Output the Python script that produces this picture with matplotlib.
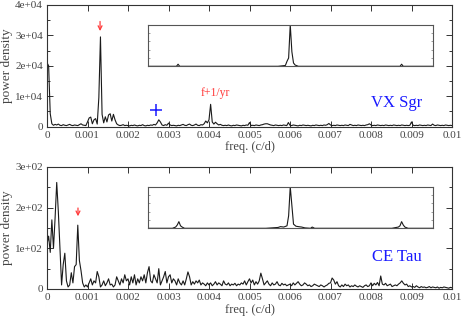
import numpy as np
import matplotlib
matplotlib.use("Agg")
import matplotlib.pyplot as plt

plt.rcParams['font.family'] = ['Liberation Serif', 'DejaVu Serif']

# ---------------- data ----------------
freq_step = 0.00004
freq = np.round(np.arange(0, 251) * freq_step, 6)  # 0 .. 0.01 c/d

vx_power = [
    # 0.000 - 0.00096
    21000, 20000, 4200, 900, 400, 700, 500, 800, 400, 300, 600, 400, 300,
    500, 700, 400, 300, 500, 400, 300, 600, 900, 500, 400, 300,
    # 0.001 - 0.00196
    1500, 2800, 3100, 900, 2200, 2600, 800, 9500, 29500, 4000, 1200, 3200, 1500,
    3800, 4200, 1800, 4000, 2200, 900, 500, 300, 400, 600, 300, 400,
    # 0.002 - 0.00296
    300, 200, 400, 300, 500, 300, 200, 400, 300, 600, 300, 200, 400,
    300, 500, 400, 700, 500, 1200, 2200, 1500, 500, 300, 600, 400,
    # 0.003 - 0.00396
    1100, 500, 300, 400, 300, 200, 400, 300, 500, 700, 400, 300, 600,
    800, 400, 300, 500, 800, 400, 300, 600, 500, 900, 1800, 1200,
    # 0.004 - 0.00496
    2200, 7300, 1500, 800, 1400, 900, 500, 700, 400, 300, 400, 300, 500,
    300, 200, 400, 300, 500, 400, 300, 200, 400, 300, 500, 400,
    # 0.005 - 0.00596
    1300, 300, 400, 300, 500, 400, 300, 500, 600, 800, 900, 900, 700,
    500, 400, 300, 500, 400, 300, 400, 300, 500, 400, 300, 1300,
    # 0.006 - 0.00696
    400, 300, 500, 400, 300, 200, 400, 300, 500, 400, 300, 400, 300,
    200, 400, 300, 500, 400, 300, 400, 300, 500, 400, 600, 1000,
    # 0.007 - 0.00796
    500, 300, 400, 300, 500, 400, 300, 400, 300, 500, 400, 300, 700,
    500, 300, 400, 300, 500, 400, 300, 400, 300, 500, 600, 900,
    # 0.008 - 0.00896
    500, 300, 400, 300, 500, 400, 300, 400, 300, 500, 400, 300, 400,
    300, 500, 400, 300, 400, 300, 500, 400, 300, 400, 300, 400,
    # 0.009 - 0.00996
    1500, 400, 300, 400, 300, 500, 400, 300, 400, 300, 500, 400, 300,
    800, 400, 300, 500, 400, 300, 400, 300, 500, 400, 300, 400,
    300,
]

ce_power = [
    # 0.000 - 0.00096
    110, 130, 90, 170, 100, 175, 262, 190, 100, 10, 60, 88, 20,
    5, 10, 40, 15, 55, 60, 157, 70, 45, 15, 5, 10,
    # 0.001 - 0.00196
    5, 15, 25, 10, 20, 15, 43, 30, 5, 10, 20, 8, 15,
    25, 10, 12, 5, 10, 30, 20, 10, 25, 15, 35, 20,
    # 0.002 - 0.00296
    25, 10, 30, 15, 35, 10, 25, 15, 30, 20, 35, 15, 40,
    55, 20, 15, 35, 25, 15, 50, 10, 20, 30, 43, 15,
    # 0.003 - 0.00396
    30, 35, 15, 25, 20, 10, 25, 15, 10, 20, 10, 25, 42,
    30, 10, 18, 12, 20, 15, 22, 10, 15, 12, 8, 15,
    # 0.004 - 0.00496
    10, 15, 8, 12, 18, 10, 15, 12, 8, 20, 12, 10, 15,
    8, 12, 10, 14, 8, 12, 10, 15, 12, 20, 10, 18,
    # 0.005 - 0.00596
    25, 15, 22, 10, 18, 12, 20, 39, 25, 10, 15, 20, 12,
    8, 15, 10, 12, 18, 10, 8, 14, 10, 12, 8, 10,
    # 0.006 - 0.00696
    12, 8, 15, 10, 14, 18, 12, 8, 10, 15, 12, 8, 10,
    6, 8, 12, 10, 8, 6, 10, 8, 5, 8, 10, 14,
    # 0.007 - 0.00796
    15, 27, 22, 12, 18, 8, 5, 10, 6, 12, 8, 10, 5,
    8, 6, 10, 7, 5, 8, 6, 4, 8, 10, 6, 8,
    # 0.008 - 0.00896
    15, 8, 14, 10, 16, 8, 32, 12, 10, 14, 8, 10, 12,
    6, 8, 10, 8, 12, 15, 20, 14, 10, 12, 6, 8,
    # 0.009 - 0.00996
    5, 6, 4, 8, 5, 3, 6, 4, 5, 3, 4, 6, 3,
    5, 4, 3, 5, 2, 4, 3, 5, 4, 3, 2, 4,
    3,
]

# spectral windows (insets), frequency offset in c/d, normalised power
vx_win_freq = [-0.0035, -0.0028, -0.00276, -0.00272, -0.0003, -0.00012, -0.00008,
               -0.00004, 0.0, 0.00004, 0.00008, 0.00012, 0.0002, 0.0027,
               0.00274, 0.00278, 0.0035]
vx_win_power = [0.0, 0.0, 0.05, 0.0, 0.0, 0.02, 0.12, 0.2, 1.0, 0.35, 0.08,
                0.03, 0.0, 0.0, 0.05, 0.0, 0.0]

ce_win_freq = [-0.0035, -0.0029, -0.00282, -0.00278, -0.00274, -0.0027, -0.00266,
               -0.0026, -0.0006, -0.0003, -0.00024, -0.00016, -0.00008, -0.00004,
               0.0, 0.00004, 0.00008, 0.00014, 0.0002, 0.00028, 0.00036, 0.0005,
               0.00054, 0.0006, 0.0025, 0.00266, 0.0027, 0.00274, 0.00278,
               0.00282, 0.0029, 0.0035]
ce_win_power = [0.0, 0.0, 0.03, 0.08, 0.16, 0.06, 0.03, 0.0, 0.0, 0.02, 0.04,
                0.03, 0.06, 0.3, 1.0, 0.55, 0.1, 0.05, 0.04, 0.03, 0.01, 0.0,
                0.03, 0.0, 0.0, 0.03, 0.06, 0.16, 0.08, 0.03, 0.0, 0.0]

x_ticks = [0, 0.001, 0.002, 0.003, 0.004, 0.005, 0.006, 0.007, 0.008, 0.009, 0.01]
x_ticklabels = ['0', '0.001', '0.002', '0.003', '0.004', '0.005', '0.006',
                '0.007', '0.008', '0.009', '0.01']
vx_yticks = [0, 10000, 20000, 30000, 40000]
vx_yticklabels = ['0', '1e+04', '2e+04', '3e+04', '4e+04']
ce_yticks = [0, 100, 200, 300]
ce_yticklabels = ['0', '1e+02', '2e+02', '3e+02']

# ---------------- figure ----------------
W, H = 463, 316
fig = plt.figure(figsize=(W / 100, H / 100), dpi=100)

frame_col = '#333333'
tick_col = '#444444'
line_col = '#1a1a1a'
red = '#ff3b3b'
blue = '#1a1aff'


def px_rect(x0, y0, x1, y1):
    return [x0 / W, 1 - y1 / H, (x1 - x0) / W, (y1 - y0) / H]


def style_main(ax, yticks, yticklabels, ymax, yminor):
    ax.set_xlim(0, 0.01)
    ax.set_ylim(0, ymax)
    ax.set_xticks(x_ticks)
    ax.set_xticklabels(x_ticklabels)
    ax.set_yticks(yticks)
    ax.set_yticklabels(yticklabels)
    ax.set_yticks(yminor, minor=True)
    ax.tick_params(which='both', direction='in', top=True, right=True,
                   colors=frame_col, labelcolor=tick_col, width=0.7)
    ax.tick_params(which='major', length=4, labelsize=8, pad=3)
    ax.tick_params(which='minor', length=2.5)
    for s in ax.spines.values():
        s.set_color(frame_col)
        s.set_linewidth(0.8)
    ax.set_xlabel('freq. (c/d)', fontsize=9, color=tick_col, labelpad=1)
    ax.set_ylabel('power density', fontsize=9.5, color=tick_col, labelpad=2)
    ax.yaxis.set_label_coords(-0.085, 0.5)


def style_inset(ax):
    ax.set_xlim(-0.0035, 0.0035)
    ax.set_ylim(0, 1.0)
    ax.set_xticks([])
    ax.set_yticks([0.2, 0.4, 0.6, 0.8])
    ax.set_yticklabels([])
    ax.tick_params(direction='in', length=1.5, left=True, right=True,
                   colors='#777777', width=0.5)
    for s in ax.spines.values():
        s.set_color('#555555')
        s.set_linewidth(0.8)


# top panel: VX Sgr
ax1 = fig.add_axes(px_rect(47, 5, 452, 126.5))
ax1.plot(freq, vx_power, color=line_col, lw=0.8)
style_main(ax1, vx_yticks, vx_yticklabels, 40000,
           [5000, 15000, 25000, 35000])
ax1.annotate('', xy=(0.00131, 30500), xytext=(0.00131, 35500),
             arrowprops=dict(arrowstyle='->', color=red, lw=0.9,
                             mutation_scale=7))
ax1.text(0.00415, 10900, 'f+1/yr', color=red, fontsize=8.5,
         ha='center', va='center')
ax1.plot([0.00269], [5300], marker='+', color=blue, markersize=9,
         markeredgewidth=1.1, linestyle='none')
ax1.text(0.00864, 7600, 'VX Sgr', color=blue, fontsize=12,
         ha='center', va='center')

ins1 = fig.add_axes(px_rect(148, 24.7, 432.5, 66.3))
ins1.plot(vx_win_freq, vx_win_power, color=line_col, lw=0.8)
style_inset(ins1)

# bottom panel: CE Tau
ax2 = fig.add_axes(px_rect(47, 167, 452, 289))
ax2.plot(freq, ce_power, color=line_col, lw=0.8)
style_main(ax2, ce_yticks, ce_yticklabels, 300, [50, 150, 250])
ax2.annotate('', xy=(0.000765, 172), xytext=(0.000765, 206),
             arrowprops=dict(arrowstyle='->', color=red, lw=0.9,
                             mutation_scale=7))
ax2.text(0.00864, 79, 'CE Tau', color=blue, fontsize=12,
         ha='center', va='center')

ins2 = fig.add_axes(px_rect(148, 186.7, 432.5, 228.3))
ins2.plot(ce_win_freq, ce_win_power, color=line_col, lw=0.8)
style_inset(ins2)

fig.savefig('out.png', dpi=100)
